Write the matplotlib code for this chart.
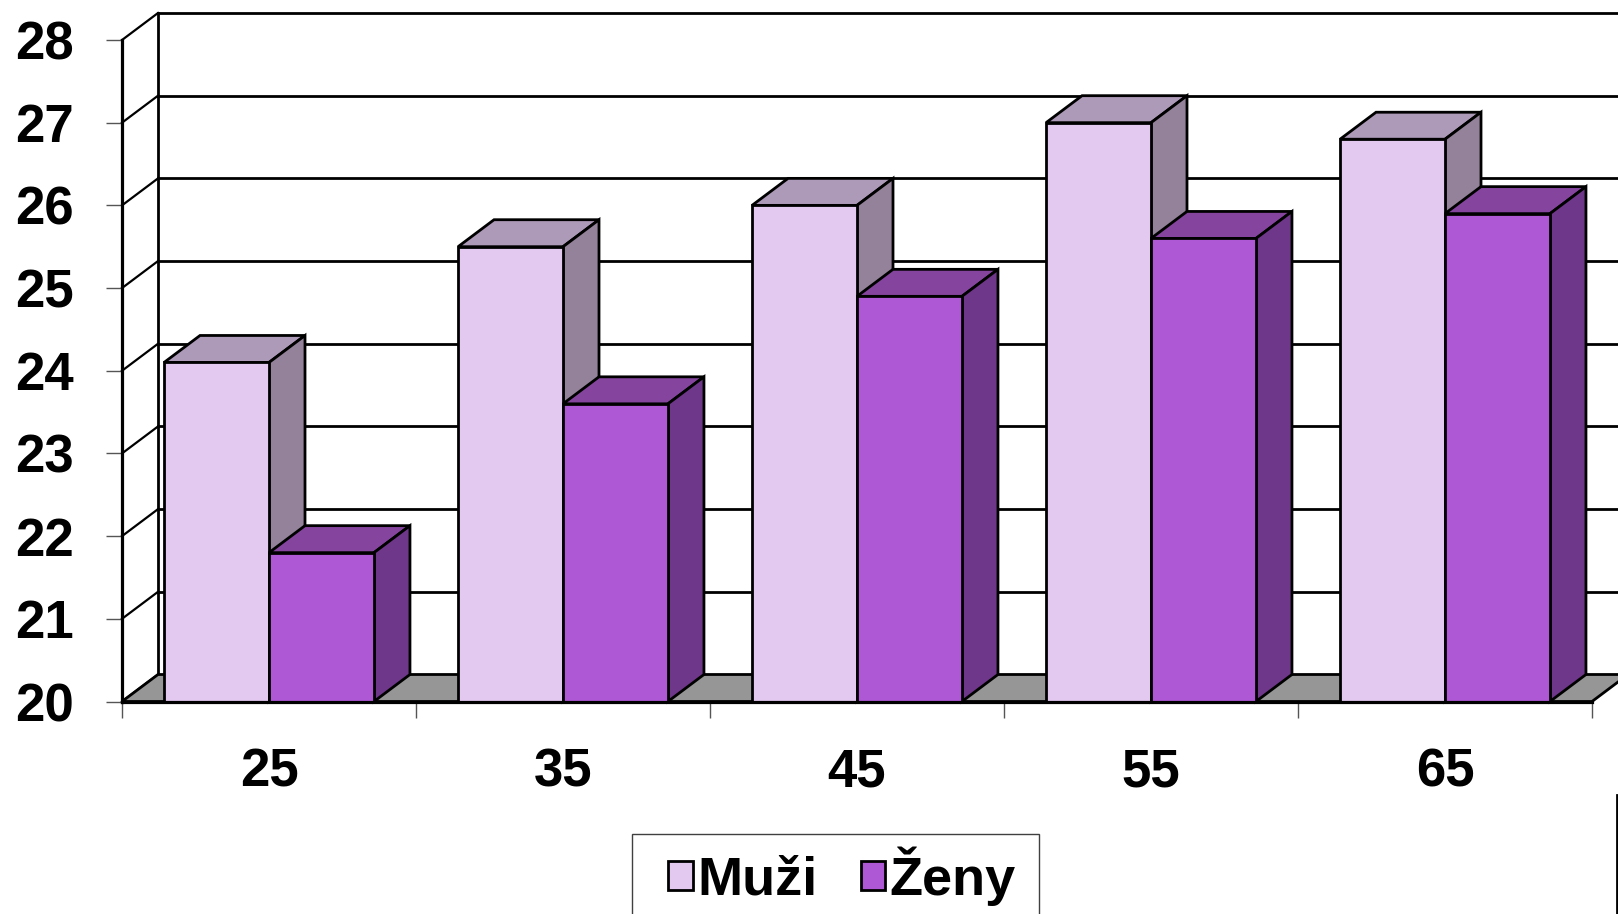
import matplotlib
matplotlib.use("Agg")
from matplotlib import pyplot as plt
from matplotlib.patches import Polygon, Patch, Rectangle
from matplotlib.lines import Line2D

plt.rcParams['font.family'] = ['Liberation Sans', 'DejaVu Sans']
plt.rcParams['font.weight'] = 'bold'

## data
categories = ['25', '35', '45', '55', '65']
muzi = [24.1, 25.5, 26.0, 27.0, 26.8]
zeny = [21.8, 23.6, 24.9, 25.6, 25.9]
series = ['Muži', 'Ženy']
y_ticks = list(range(20, 29))

## colours: front, top, side
col_muzi = ('#e3c8f0', '#ad99b8', '#93829a')
col_zeny = ('#af58d6', '#85459f', '#6f378a')
floor_col = '#969696'

W, H = 1618, 914
fig = plt.figure(figsize=(W / 100, H / 100), dpi=100)
ax_w, ax_h = 1470, 661.5
ax = fig.add_axes([122 / W, (H - 701.5) / H, ax_w / W, ax_h / H])
ax.set_xlim(-0.5, len(categories) - 0.5)
ax.set_ylim(20, 28)

# depth of the fake 3D in data units (36 px right, 27 px up)
ddx = 36 / (ax_w / len(categories))
ddy = 27 / (ax_h / 8)
x0, x1 = -0.5, len(categories) - 0.5
lw = 2.0

# back wall + left wall lines
ax.plot([x0 + ddx, x0 + ddx], [20 + ddy, 28 + ddy], color='black', lw=lw, clip_on=False, zorder=1)
for v in y_ticks:
    if v > 20:
        ax.plot([x0 + ddx, x1 + ddx], [v + ddy, v + ddy], color='black', lw=lw, clip_on=False, zorder=1)
    ax.plot([x0, x0 + ddx], [v, v + ddy], color='black', lw=lw * 0.8, clip_on=False, zorder=1)

# floor
ax.add_patch(Polygon([(x0, 20), (x1, 20), (x1 + ddx, 20 + ddy), (x0 + ddx, 20 + ddy)],
                     closed=True, facecolor=floor_col, edgecolor='black', lw=lw, clip_on=False, zorder=2))

w = 0.357
xs = list(range(len(categories)))
for k, (vals, cols) in enumerate([(muzi, col_muzi), (zeny, col_zeny)]):
    left = [x - w + k * w for x in xs]
    z = 3 + 2 * k
    ax.bar(left, [v - 20 for v in vals], width=w, bottom=20, align='edge',
           color=cols[0], edgecolor='black', lw=lw, zorder=z + 1, clip_on=False)
    for l, v in zip(left, vals):
        top = [(l, v), (l + w, v), (l + w + ddx, v + ddy), (l + ddx, v + ddy)]
        side = [(l + w, 20), (l + w + ddx, 20 + ddy), (l + w + ddx, v + ddy), (l + w, v)]
        ax.add_patch(Polygon(top, closed=True, facecolor=cols[1], edgecolor='black', lw=lw, zorder=z, clip_on=False))
        ax.add_patch(Polygon(side, closed=True, facecolor=cols[2], edgecolor='black', lw=lw, zorder=z, clip_on=False))

# axes
for s in ['top', 'right']:
    ax.spines[s].set_visible(False)
for s in ['left', 'bottom']:
    ax.spines[s].set_linewidth(lw + 0.3)
    ax.spines[s].set_zorder(10)
ax.set_yticks(y_ticks)
ax.tick_params(axis='y', length=11.5, width=1, color='#555555', pad=23, labelsize=38)
ax.set_xticks([x - 0.5 for x in range(len(categories) + 1)])
ax.set_xticklabels([])
ax.set_xticks(xs, minor=True)
ax.set_xticklabels(categories, minor=True)
ax.tick_params(axis='x', which='major', length=11.5, width=1, color='#555555')
ax.tick_params(axis='x', which='minor', length=0, pad=33, labelsize=38)
ax.set_facecolor('none')

# legend with its own frame (box is cut by the bottom edge)
fig.add_artist(Rectangle((632 / W, -0.05), (1039 - 632) / W, 0.05 + 1 - 834 / H,
                         transform=fig.transFigure, facecolor='white', edgecolor='#404040', lw=1))
handles = [Patch(facecolor=col_muzi[0], edgecolor='black', lw=2),
           Patch(facecolor=col_zeny[0], edgecolor='black', lw=2)]
leg = fig.legend(handles, series, loc='center', bbox_to_anchor=(842 / W, 1 - 876 / H),
                 ncol=2, fontsize=39, frameon=False, borderaxespad=0,
                 handlelength=0.45, handleheight=0.45, handletextpad=0.08, columnspacing=0.8,
                 borderpad=0.1)

fig.add_artist(Line2D([1617 / W, 1617 / W], [0, 1 - 795 / H], color='black', lw=2))

fig.savefig('out.png', dpi=100)
